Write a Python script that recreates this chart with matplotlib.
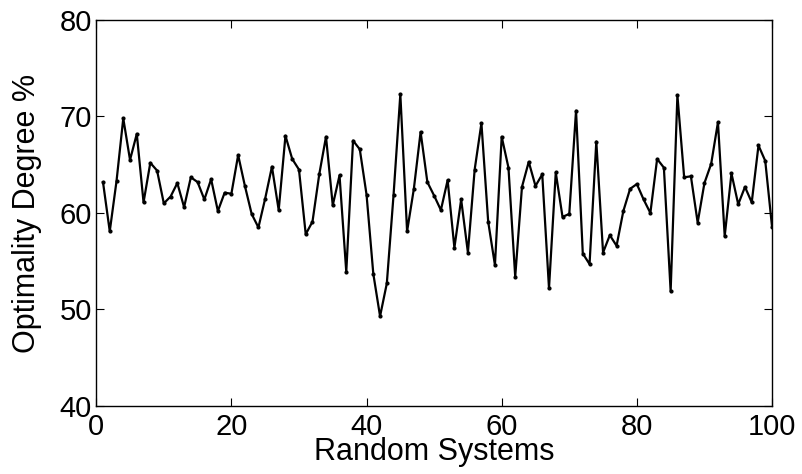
import numpy as np
import matplotlib
matplotlib.use("Agg")
import matplotlib.pyplot as plt

plt.rcParams['font.family'] = ['Liberation Sans', 'DejaVu Sans']

# system index and optimality degree
systems = np.arange(1, 101)
optimality = [63.2, 58.1, 63.3, 69.8, 65.5, 68.2, 61.1, 65.2, 64.4, 61.0,
              61.7, 63.1, 60.6, 63.7, 63.2, 61.4, 63.5, 60.2, 62.1, 62.0,
              66.0, 62.8, 59.9, 58.5, 61.5, 64.8, 60.3, 68.0, 65.6, 64.5,
              57.8, 59.1, 64.0, 67.9, 60.8, 63.9, 53.9, 67.5, 66.6, 61.9,
              53.7, 49.3, 52.7, 61.9, 72.3, 58.1, 62.5, 68.4, 63.2, 61.8,
              60.3, 63.4, 56.4, 61.4, 55.9, 64.5, 69.3, 59.1, 54.6, 67.9,
              64.7, 53.4, 62.7, 65.3, 62.8, 64.0, 52.2, 64.2, 59.6, 59.9,
              70.6, 55.8, 54.7, 67.4, 55.9, 57.7, 56.6, 60.2, 62.5, 63.0,
              61.4, 60.0, 65.6, 64.7, 51.9, 72.2, 63.7, 63.8, 59.0, 63.1,
              65.1, 69.4, 57.6, 64.1, 60.9, 62.7, 61.1, 67.0, 65.4, 58.6]

xticks = [0, 20, 40, 60, 80, 100]
yticks = [40, 50, 60, 70, 80]

fig = plt.figure(figsize=(8.02, 4.74), dpi=100)
ax = fig.add_axes([0.12, 0.1435, 0.8426, 0.8143])

ax.plot(systems, optimality, color='black', lw=1.6, marker='.', ms=4)

ax.set_xlim(0, 100)
ax.set_ylim(40, 80)
ax.set_xticks(xticks)
ax.set_yticks(yticks)
ax.tick_params(direction='in', top=True, right=True, length=6, width=0.8,
               labelsize=21)
ax.tick_params(axis='x', pad=5)
ax.tick_params(axis='y', pad=3)
for s in ax.spines.values():
    s.set_linewidth(1.0)

ax.set_xlabel('Random Systems', fontsize=22, labelpad=-3)
ax.set_ylabel('Optimality Degree %', fontsize=22, labelpad=13)

fig.savefig('out.png', dpi=100)
